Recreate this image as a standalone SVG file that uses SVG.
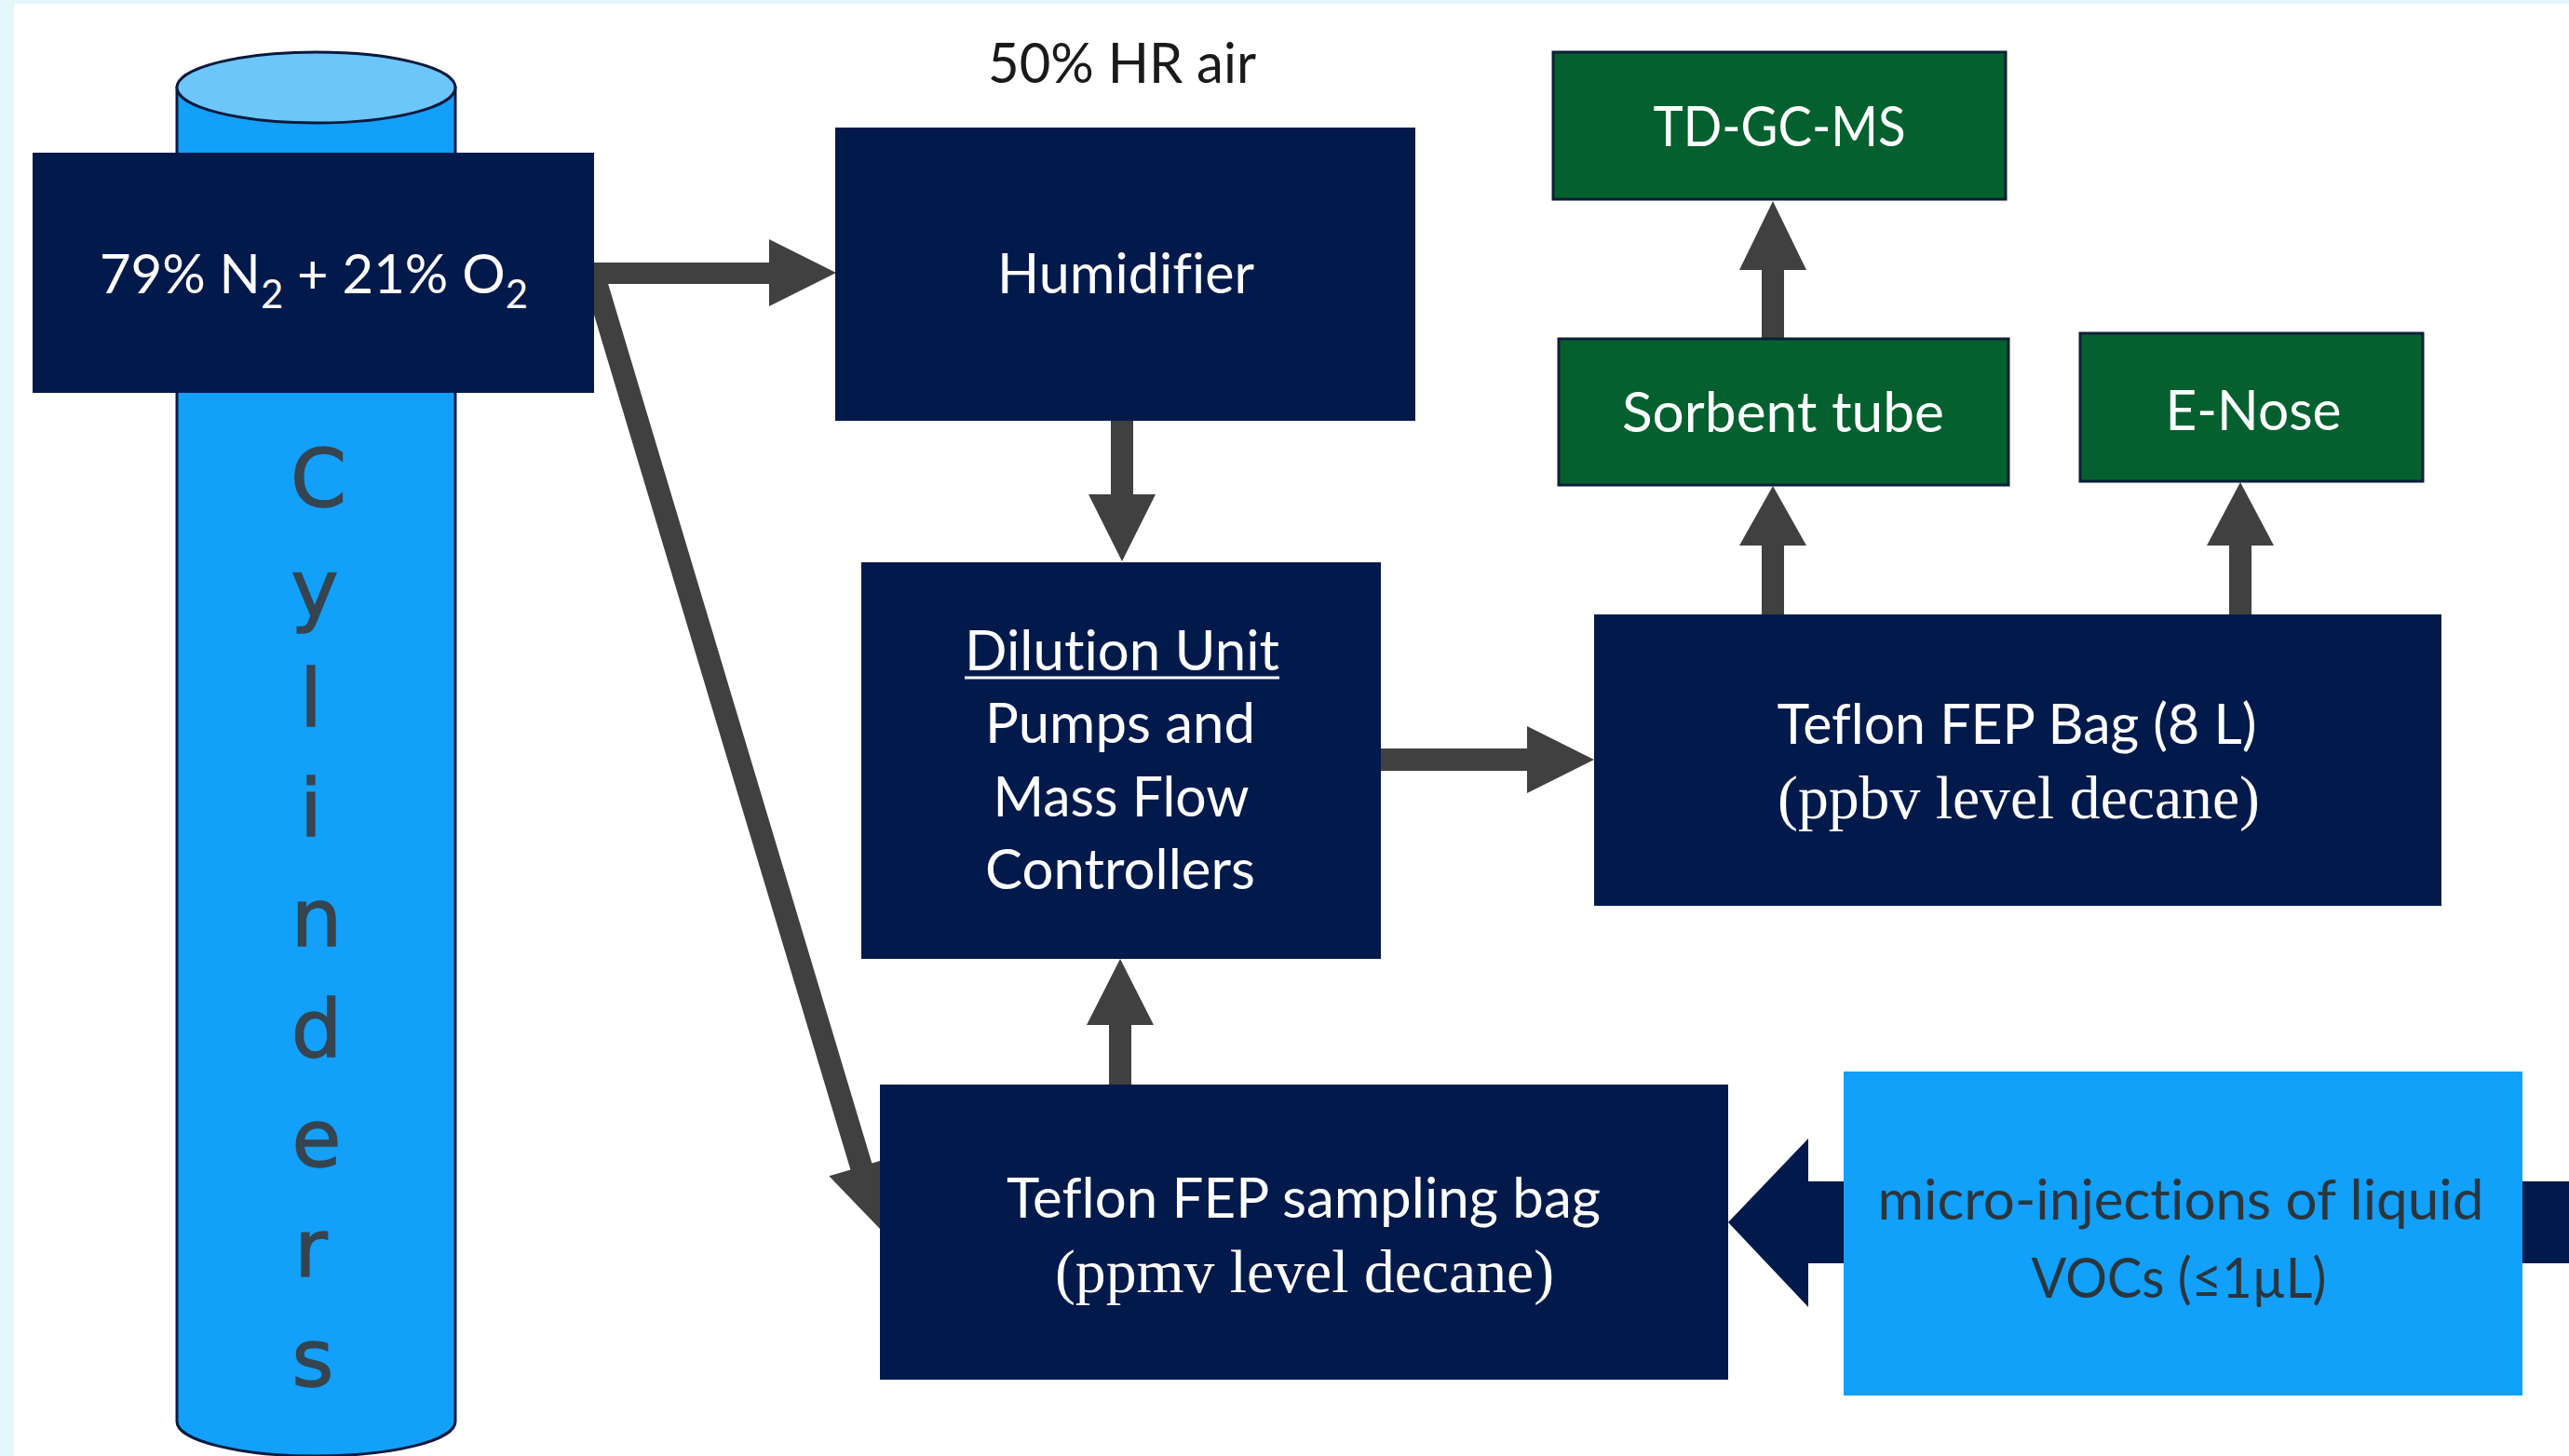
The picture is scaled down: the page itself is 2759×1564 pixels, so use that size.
<svg xmlns="http://www.w3.org/2000/svg" width="2759" height="1564" viewBox="0 0 2759 1564">
  <style>
    .navy { fill: #021a4b; }
    .green { fill: #04612f; stroke: #0c2036; stroke-width: 3; }
    .lbl { font-family: Lato, "Open Sans", "Liberation Sans", sans-serif; font-size: 60px; text-anchor: middle; font-variant-ligatures: none; }
    .w { fill: #ffffff; }
    .serif { font-family: "Liberation Serif", "Times New Roman", serif; font-size: 66px; text-anchor: middle; fill: #ffffff; }
    .sub { font-size: 42px; }
    .arrow { fill: #404040; }
    .cyl { font-family: "DejaVu Sans", Verdana, sans-serif; font-size: 86px; fill: #36444f; stroke: #36444f; stroke-width: 1.5; text-anchor: middle; }
  </style>

  <!-- background frame -->
  <rect x="0" y="0" width="2759" height="1564" fill="#ffffff"/>
  <rect x="0" y="0" width="15" height="1564" fill="#e4f5fc"/>
  <rect x="0" y="0" width="2759" height="4" fill="#e4f5fc"/>

  <!-- cylinder -->
  <g id="cylinders">
    <path d="M190,94 L190,1527 A149.5,37 0 0 0 489,1527 L489,94 Z" fill="#12a0fa" stroke="#0a1a3d" stroke-width="3"/>
    <ellipse cx="339.5" cy="94" rx="149.5" ry="38" fill="#6cc6fa" stroke="#0a1a3d" stroke-width="3"/>
    <text class="cyl" x="342" y="544">C</text>
    <text class="cyl" x="338" y="662">y</text>
    <text class="cyl" x="334" y="780">l</text>
    <text class="cyl" x="334" y="898">i</text>
    <text class="cyl" x="340" y="1016">n</text>
    <text class="cyl" x="340" y="1135">d</text>
    <text class="cyl" x="340" y="1253">e</text>
    <text class="cyl" x="334" y="1371">r</text>
    <text class="cyl" x="336" y="1489">s</text>
  </g>

  <!-- connectors -->
  <g id="connectors">
    <polygon class="arrow" points="628,282 826,282 826,257 898,293 826,329 826,305 628,305"/>
    <polygon class="arrow" points="625.5,296.4 648.5,289.6 936.4,1249.6 959.4,1242.7 945,1320 890.4,1263.3 913.4,1256.4"/>
    <polygon class="arrow" points="1193,452 1217,452 1217,531 1241,531 1205,603 1169,531 1193,531"/>
    <polygon class="arrow" points="1191,1166 1191,1101 1167,1101 1203,1030 1239,1101 1215,1101 1215,1166"/>
    <polygon class="arrow" points="1483,804 1640,804 1640,780 1712,816 1640,852 1640,828 1483,828"/>
    <polygon class="arrow" points="1892,660 1892,586 1868,586 1904,522 1940,586 1916,586 1916,660"/>
    <polygon class="arrow" points="1892,364 1892,290 1868,290 1904,216 1940,290 1916,290 1916,364"/>
    <polygon class="arrow" points="2394,660 2394,586 2370,586 2406,518 2442,586 2418,586 2418,660"/>
    <polygon fill="#021a4b" points="1856,1313 1942,1223 1942,1269 2770,1269 2770,1357 1942,1357 1942,1404"/>
  </g>

  <g id="gas-mix">
    <rect class="navy" x="35" y="164" width="603" height="258"/>
    <text class="lbl w" x="337" y="315" style="font-size:58px">79% N<tspan class="sub" dy="16">2</tspan><tspan dy="-16"> + 21% O</tspan><tspan class="sub" dy="16">2</tspan></text>
  </g>

  <g id="humidifier-label">
    <text class="lbl" x="1205" y="89" fill="#1a1a1a" textLength="288" lengthAdjust="spacingAndGlyphs">50% HR air</text>
  </g>

  <g id="humidifier">
    <rect class="navy" x="897" y="137" width="623" height="315"/>
    <text class="lbl w" x="1209" y="315" textLength="276" lengthAdjust="spacingAndGlyphs">Humidifier</text>
  </g>

  <g id="dilution-unit">
    <rect class="navy" x="925" y="604" width="558" height="426"/>
    <text class="lbl w" x="1205" y="720" textLength="338" lengthAdjust="spacingAndGlyphs">Dilution Unit</text>
    <line x1="1036" y1="728" x2="1374" y2="728" stroke="#ffffff" stroke-width="3"/>
    <text class="lbl w" x="1203" y="798" textLength="290" lengthAdjust="spacingAndGlyphs">Pumps and</text>
    <text class="lbl w" x="1204" y="877" textLength="275" lengthAdjust="spacingAndGlyphs">Mass Flow</text>
    <text class="lbl w" x="1203" y="955" textLength="290" lengthAdjust="spacingAndGlyphs">Controllers</text>
  </g>

  <g id="teflon-bag">
    <rect class="navy" x="1712" y="660" width="910" height="313"/>
    <text class="lbl w" x="2166" y="799" textLength="515" lengthAdjust="spacingAndGlyphs">Teflon FEP Bag (8 L)</text>
    <text class="serif" x="2168" y="879" textLength="518" lengthAdjust="spacingAndGlyphs">(ppbv level decane)</text>
  </g>

  <g id="td-gc-ms">
    <rect class="green" x="1668" y="56" width="486" height="158"/>
    <text class="lbl w" x="1911" y="157" textLength="271" lengthAdjust="spacingAndGlyphs">TD-GC-MS</text>
  </g>

  <g id="sorbent-tube">
    <rect class="green" x="1674" y="364" width="483" height="157"/>
    <text class="lbl w" x="1915" y="464" textLength="346" lengthAdjust="spacingAndGlyphs">Sorbent tube</text>
  </g>

  <g id="e-nose">
    <rect class="green" x="2234" y="358" width="368" height="159"/>
    <text class="lbl w" x="2420" y="462" textLength="189" lengthAdjust="spacingAndGlyphs">E-Nose</text>
  </g>

  <g id="sampling-bag">
    <rect class="navy" x="945" y="1165" width="911" height="317"/>
    <text class="lbl w" x="1400" y="1308" textLength="638" lengthAdjust="spacingAndGlyphs">Teflon FEP sampling bag</text>
    <text class="serif" x="1401" y="1388" textLength="536" lengthAdjust="spacingAndGlyphs">(ppmv level decane)</text>
  </g>

  <g id="micro-injections">
    <rect x="1980" y="1151" width="729" height="348" fill="#11a0fa"/>
    <text class="lbl" x="2342" y="1310" fill="#2b353c" textLength="651" lengthAdjust="spacingAndGlyphs">micro-injections of liquid</text>
    <text class="lbl" x="2340" y="1394" fill="#2b353c" textLength="317" lengthAdjust="spacingAndGlyphs">VOCs (≤1µL)</text>
  </g>
</svg>
